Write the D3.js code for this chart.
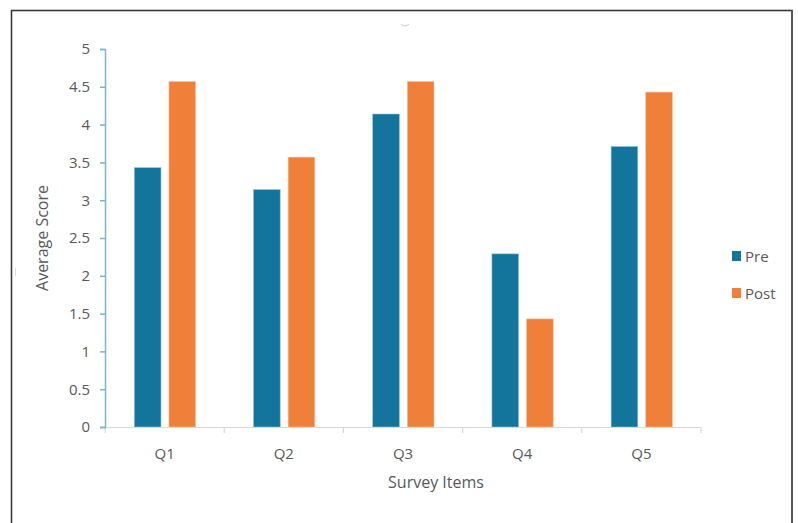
<!DOCTYPE html>
<html>
<head>
<meta charset="utf-8">
<script src="https://cdn.jsdelivr.net/npm/d3@7"></script>
<style>
  html, body { margin: 0; padding: 0; background: #fff; }
  svg { display: block; }
  text { font-family: "Open Sans", "Noto Sans", sans-serif; fill: #595959; }
</style>
</head>
<body>
<svg id="chart" width="798" height="523"></svg>
<script>
const categories = ["Q1", "Q2", "Q3", "Q4", "Q5"];
const seriesNames = ["Pre", "Post"];
const preValues = [3.43, 3.14, 4.14, 2.29, 3.71];
const postValues = [4.57, 3.57, 4.57, 1.43, 4.43];
const yTicks = [0, 0.5, 1, 1.5, 2, 2.5, 3, 3.5, 4, 4.5, 5];
const yTickLabels = ["0", "0.5", "1", "1.5", "2", "2.5", "3", "3.5", "4", "4.5", "5"];
const colors = ["#13759b", "#f07f3a"];
const xTitle = "Survey Items";
const yTitle = "Average Score";

const svg = d3.select("#chart");

// outer frame
svg.append("rect")
  .attr("x", 11.5).attr("y", 10.5)
  .attr("width", 780.5).attr("height", 530)
  .attr("fill", "none").attr("stroke", "#3a3a3a").attr("stroke-width", 1.6);
svg.append("line").attr("x1", 792).attr("x2", 792).attr("y1", 10).attr("y2", 523)
  .attr("stroke", "#555").attr("stroke-width", 1.5);

// small faint artifacts
svg.append("path").attr("d", "M401,24 Q405,28 409,24").attr("fill", "none")
  .attr("stroke", "#ccc").attr("stroke-width", 1);
svg.append("line").attr("x1", 15.5).attr("x2", 15.5).attr("y1", 268).attr("y2", 276)
  .attr("stroke", "#ddd").attr("stroke-width", 1);

const plot = { left: 105, right: 701, top: 49, bottom: 427 };

const x = d3.scaleBand().domain(categories).range([plot.left, plot.right]).padding(0);
const xs = d3.scaleBand().domain(seriesNames)
  .range([x.bandwidth() * 0.246, x.bandwidth() * 0.76]).paddingInner(0.23);
const y = d3.scaleLinear().domain([0, 5]).range([plot.bottom, plot.top]);

const data = categories.map((c, i) => ({ cat: c, vals: [preValues[i], postValues[i]] }));

// bars
const g = svg.append("g");
data.forEach(d => {
  d.vals.forEach((v, j) => {
    g.append("rect")
      .attr("x", x(d.cat) + xs(seriesNames[j]))
      .attr("y", y(v))
      .attr("width", xs.bandwidth())
      .attr("height", y(0) - y(v))
      .attr("fill", colors[j])
      .attr("stroke", j === 0 ? "#8fc0d8" : "#f8c29f")
      .attr("stroke-width", 0.6);
  });
});

// x axis
const xAxis = svg.append("g").attr("transform", `translate(0,${plot.bottom})`);
xAxis.append("line").attr("x1", plot.left).attr("x2", plot.right)
  .attr("y1", 0.5).attr("y2", 0.5).attr("stroke", "#d9d9d9").attr("stroke-width", 1.2);
const boundaries = categories.map(c => x(c)).concat([x(categories[categories.length - 1]) + x.bandwidth()]);
xAxis.selectAll("line.tick").data(boundaries).enter().append("line")
  .attr("x1", d => d).attr("x2", d => d).attr("y1", 0).attr("y2", 6)
  .attr("stroke", "#d9d9d9").attr("stroke-width", 1.2);
xAxis.selectAll("text.lbl").data(categories).enter().append("text")
  .attr("x", d => x(d) + x.bandwidth() / 2).attr("y", 32)
  .attr("text-anchor", "middle").attr("font-size", 15).text(d => d);

// y axis
const yAxis = svg.append("g").attr("transform", `translate(${plot.left},0)`)
  .call(d3.axisLeft(y).tickValues(yTicks).tickFormat((d, i) => yTickLabels[i]).tickSize(5).tickPadding(10));
yAxis.select(".domain").attr("stroke", "#7db3d1").attr("stroke-width", 1.5);
yAxis.selectAll(".tick line").attr("stroke", "#7db3d1").attr("stroke-width", 1.5);
yAxis.selectAll(".tick text").attr("font-size", 15).attr("fill", "#595959")
  .style("font-family", "'Open Sans', 'Noto Sans', sans-serif");

// titles
svg.append("text").attr("x", 436).attr("y", 488).attr("text-anchor", "middle")
  .attr("font-size", 16).text(xTitle);
svg.append("text").attr("transform", "translate(48,238) rotate(-90)")
  .attr("text-anchor", "middle").attr("font-size", 16).text(yTitle);

// legend
const legend = svg.append("g");
seriesNames.forEach((s, i) => {
  const ly = 256 + i * 37;
  legend.append("rect").attr("x", 732).attr("y", ly - 5).attr("width", 9).attr("height", 10)
    .attr("fill", colors[i]);
  legend.append("text").attr("x", 745).attr("y", ly + 5.5).attr("font-size", 15).text(s);
});
</script>
</body>
</html>
